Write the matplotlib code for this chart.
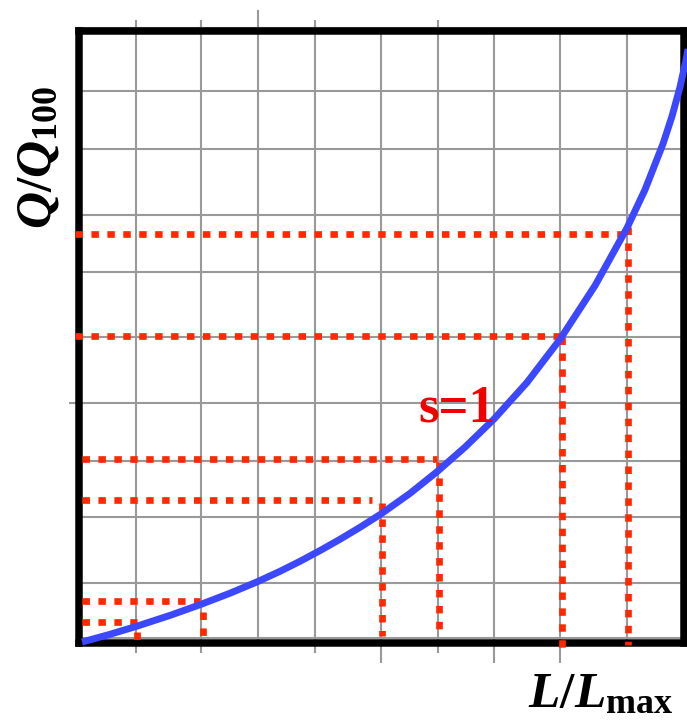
import matplotlib
matplotlib.use("Agg")
import matplotlib.pyplot as plt

plt.rcParams['mathtext.fontset'] = 'custom'
plt.rcParams['mathtext.it'] = 'Liberation Serif:italic:bold'
plt.rcParams['mathtext.rm'] = 'Liberation Serif:bold'
plt.rcParams['mathtext.bf'] = 'Liberation Serif:bold'

# ---- data (normalised L/Lmax, Q/Q100) ----
curve_x = [0.0050, 0.0513, 0.0943, 0.1505, 0.2018, 0.2498, 0.2961, 0.3325,
           0.3656, 0.3987, 0.4318, 0.4649, 0.4996, 0.5476, 0.5922, 0.6385,
           0.6865, 0.7411, 0.7957, 0.8536, 0.9065, 0.9363, 0.9661, 0.9810,
           0.9942, 1.0041, 1.0141]
curve_y = [0.0008, 0.0134, 0.0262, 0.0443, 0.0624, 0.0806, 0.0998, 0.1164,
           0.1328, 0.1503, 0.1688, 0.1884, 0.2102, 0.2439, 0.2792, 0.3194,
           0.3654, 0.4252, 0.4958, 0.5836, 0.6778, 0.7404, 0.8155, 0.8605,
           0.9082, 0.9524, 1.0065]

grid_x = [0.094, 0.202, 0.296, 0.390, 0.500, 0.594, 0.687, 0.796, 0.907]
grid_y = [0.0074, 0.097, 0.205, 0.297, 0.392, 0.500, 0.606, 0.699, 0.807, 0.902, 1.0057]

guide_h_y = [0.668, 0.501, 0.300, 0.233, 0.068, 0.0335]
guide_h_x1 = [0.900, 0.807, 0.592, 0.485, 0.200, 0.096]
guide_v_x = [0.908, 0.799, 0.596, 0.501, 0.205, 0.096]
guide_v_y0 = [0.679, 0.4996, 0.295, 0.228, 0.050, 0.017]

label_curve = "s=1"

# ---- styling extents ----
grid_x_top = [1.018, 1.018, 1.034, 1.018, 1.002, 1.018, 1.002, 1.002, 1.0]
grid_x_bot = [-0.017, -0.017, 0.0, -0.017, -0.034, -0.017, -0.034, -0.034, 0.0]
grid_y_left = [0.0, 0.0, 0.0, 0.0, -0.0165, 0.0, 0.0, 0.0, 0.0, 0.0, -0.007]
grid_y_right = 1.006
guide_h_x0 = [-0.007, -0.007, 0.005, 0.005, 0.005, 0.005]
guide_v_y1 = [-0.004, -0.009, 0.011, 0.011, 0.011, 0.004]

W, H = 687, 721
fig = plt.figure(figsize=(W / 100, H / 100), dpi=100)
ax = fig.add_axes([79 / W, 1 - 642.5 / H, 604.5 / W, 611.5 / H])
ax.set_xlim(0, 1)
ax.set_ylim(0, 1)
ax.set_xticks([])
ax.set_yticks([])

gcol = '#999999'
glw = 1.5
for x, t, b in zip(grid_x, grid_x_top, grid_x_bot):
    ax.plot([x, x], [b, t], color=gcol, lw=glw, zorder=1, clip_on=False,
            solid_capstyle='butt')
for y, l in zip(grid_y, grid_y_left):
    ax.plot([l, grid_y_right], [y, y], color=gcol, lw=glw, zorder=1,
            clip_on=False, solid_capstyle='butt')

for s in ax.spines.values():
    s.set_linewidth(5.4)
    s.set_color('black')
    s.set_zorder(2.5)

red = '#ff2800'
dot = (0, (1.12, 1.27))
for hy, x0, x1, vx, vy0, vy1 in zip(guide_h_y, guide_h_x0, guide_h_x1,
                                    guide_v_x, guide_v_y0, guide_v_y1):
    ax.plot([x0, x1], [hy, hy], color=red, lw=4.8, linestyle=dot,
            dash_capstyle='butt', zorder=3, clip_on=False)
    ax.plot([vx, vx], [vy0, vy1], color=red, lw=4.8, linestyle=dot,
            dash_capstyle='butt', zorder=3, clip_on=False)

ax.plot(curve_x, curve_y, color='#3c48ff', lw=5.0, zorder=4, clip_on=False,
        solid_capstyle='butt', solid_joinstyle='round')

fig.text(418 / W, 1 - 422 / H, label_curve, color='#f20000', fontsize=38,
         family='Liberation Serif', fontweight='bold', ha='left',
         va='baseline', zorder=5)

fig.text(528 / W, 1 - 707 / H, r'$\mathit{L/L}_{\mathrm{max}}$',
         fontsize=37, ha='left', va='baseline', color='black')
fig.text(36.5 / W, 1 - 157.5 / H, r'$\mathit{Q/Q}_{\mathrm{100}}$',
         fontsize=37, ha='center', va='center', rotation=90, color='black')

fig.savefig('out.png', dpi=100)
